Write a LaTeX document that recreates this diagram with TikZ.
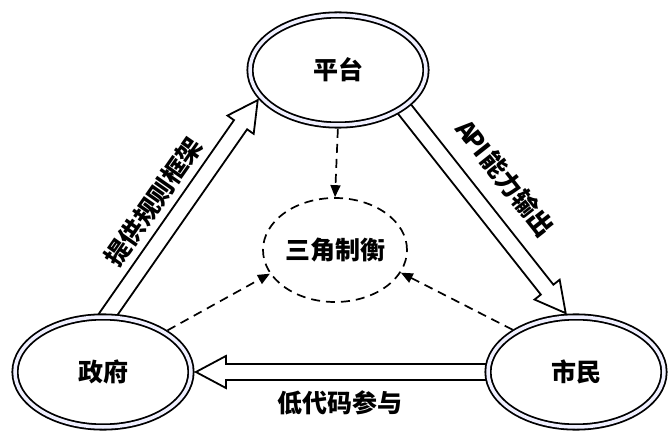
\documentclass[tikz,border=0pt]{standalone}
\usepackage{fontspec}
\setmainfont{Noto Sans CJK SC}
\usetikzlibrary{shapes.geometric,calc,arrows.meta,backgrounds}

% half-width latin letter
\newcommand{\hw}[1]{\makebox[.5em]{#1}}

\begin{document}
\begin{tikzpicture}[x=1pt,y=-1pt]

\tikzstyle{txt} = [font=\bfseries\fontsize{25}{25}\selectfont, inner sep=0pt]
\tikzstyle{party} = [ellipse, draw=black, line width=1.8pt, double=blue!6,
  double distance=3.5pt, fill=white, minimum width=176pt, minimum height=110pt, txt]
\tikzstyle{balance} = [ellipse, draw=black, line width=1.7pt, dash pattern=on 9pt off 6pt,
  minimum width=144pt, minimum height=104pt, txt]
\tikzstyle{link} = [draw=black, line width=1.7pt, dash pattern=on 9pt off 6pt,
  -{Triangle[length=12pt,width=10pt]}]
\tikzstyle{flow} = [draw=black, line width=1.8pt, line join=miter]

% hollow double arrow from #1 to #2
\newcommand{\hollowarrow}[2]{%
  \coordinate (ht) at ($(#2)!4pt!(#1)$);
  \coordinate (hs) at ($(#1)!-6pt!(#2)$);
  \coordinate (hb) at ($(ht)!30pt!(hs)$);
  \draw[flow] ($(hs)!8pt!90:(ht)$) -- ($(hb)!8pt!-90:(hs)$) -- ($(hb)!16pt!-90:(hs)$)
    -- (ht) -- ($(hb)!16pt!90:(hs)$) -- ($(hb)!8pt!90:(hs)$) -- ($(hs)!8pt!-90:(ht)$);
}

\useasboundingbox (0,0) rectangle (669,438);

\node[party, at={(338,70)}] (pt) {平台};
\node[party, at={(103,372)}] (zf) {政府};
\node[party, at={(576,372)}] (sm) {市民};
\node[balance, at={(335,250)}] (sj) {三角制衡};

\begin{scope}[on background layer]
  \hollowarrow{zf.86}{pt.199}
  \hollowarrow{pt.330}{sm.98}
  \hollowarrow{sm.180}{zf.0}
\end{scope}

\draw[link, shorten <=3pt] (pt.south) -- (sj.north);
\draw[link, shorten <=3pt] (zf.33) -- (sj.200);
\draw[link, shorten <=3pt] (sm.146) -- (sj.341);

\path (zf.86) -- (pt.199) node[pos=.45, sloped, above=15pt, txt] (l1) {提供规则框架};
\path (pt.330) -- (sm.98) node[pos=.45, sloped, above=24pt, txt] (l2) {\hw{A}\hw{P}\hw{I}能力输出};
\path (sm.180) -- (zf.0) node[midway, below=18pt, txt] (l3) {低代码参与};

\end{tikzpicture}
\end{document}
